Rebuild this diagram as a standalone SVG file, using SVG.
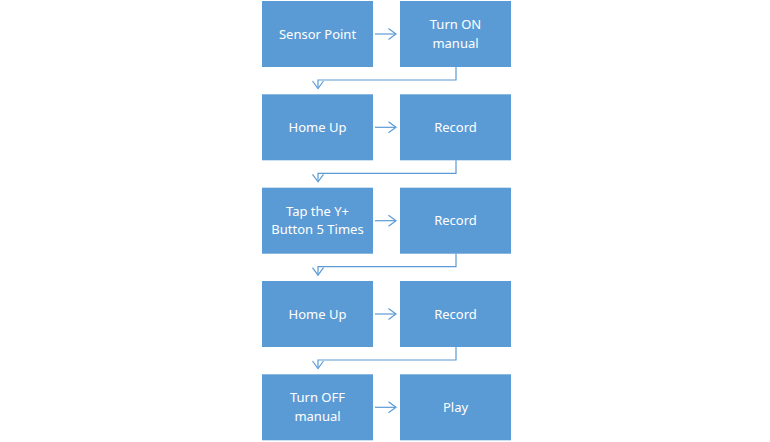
<svg xmlns="http://www.w3.org/2000/svg" width="770" height="442" viewBox="0 0 770 442">
<style>
.box{fill:#5B9BD5;}
.t{fill:#FFFFFF;font-family:"Noto Sans","Open Sans","Liberation Sans",sans-serif;font-size:13px;text-anchor:middle;}
.c{fill:none;stroke:#5B9BD5;stroke-width:1.2;marker-end:url(#ah);}
</style>
<defs>
<marker id="ah" markerUnits="userSpaceOnUse" viewBox="-10 -7 12 14" refX="0" refY="0" markerWidth="12" markerHeight="14" orient="auto">
<path d="M-7.5,-5.5 L0,0 L-7.5,5.5" fill="none" stroke="#5B9BD5" stroke-width="1.2"/>
</marker>
</defs>
<rect width="770" height="442" fill="#FFFFFF"/>
<g id="n1"><rect class="box" x="262" y="1" width="111" height="66"/><text class="t" x="317.5" y="38.5">Sensor Point</text></g>
<g id="n2"><rect class="box" x="400" y="1" width="111" height="66"/><text class="t" x="455.5" y="29">Turn ON</text><text class="t" x="455.5" y="47.5">manual</text></g>
<g id="n3"><rect class="box" x="262" y="94.3" width="111" height="66"/><text class="t" x="317.5" y="131.8">Home Up</text></g>
<g id="n4"><rect class="box" x="400" y="94.3" width="111" height="66"/><text class="t" x="455.5" y="131.8">Record</text></g>
<g id="n5"><rect class="box" x="262" y="187.7" width="111" height="66"/><text class="t" x="317.5" y="215.7">Tap the Y+</text><text class="t" x="317.5" y="234.2">Button 5 Times</text></g>
<g id="n6"><rect class="box" x="400" y="187.7" width="111" height="66"/><text class="t" x="455.5" y="225.2">Record</text></g>
<g id="n7"><rect class="box" x="262" y="281" width="111" height="66"/><text class="t" x="317.5" y="318.5">Home Up</text></g>
<g id="n8"><rect class="box" x="400" y="281" width="111" height="66"/><text class="t" x="455.5" y="318.5">Record</text></g>
<g id="n9"><rect class="box" x="262" y="374.3" width="111" height="66"/><text class="t" x="317.5" y="402.3">Turn OFF</text><text class="t" x="317.5" y="420.8">manual</text></g>
<g id="n10"><rect class="box" x="400" y="374.3" width="111" height="66"/><text class="t" x="455.5" y="411.8">Play</text></g>
<g id="connectors">
<path class="c" d="M375,34 H396"/>
<path class="c" d="M375,127.3 H396"/>
<path class="c" d="M375,220.7 H396"/>
<path class="c" d="M375,314 H396"/>
<path class="c" d="M375,407.3 H396"/>
<path class="c" d="M456,67 V80 H318 V88.5"/>
<path class="c" d="M456,160.3 V173.3 H318 V181.8"/>
<path class="c" d="M456,253.7 V266.7 H318 V275.2"/>
<path class="c" d="M456,347 V360 H318 V368.5"/>
</g>
</svg>
